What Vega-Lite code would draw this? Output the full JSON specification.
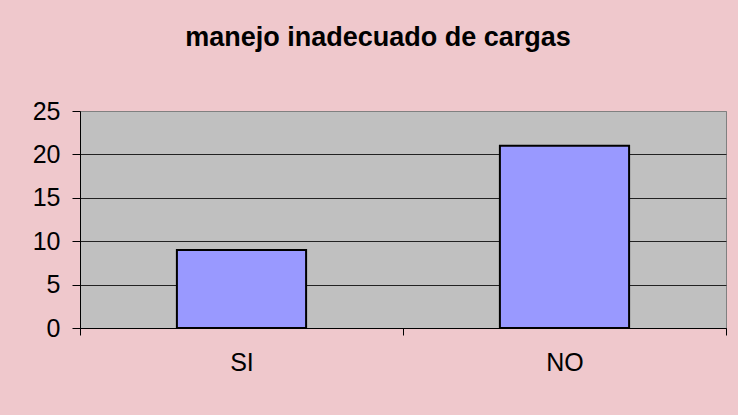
{
  "$schema": "https://vega.github.io/schema/vega-lite/v6.json",
  "width": 646,
  "height": 217,
  "autosize": {"type": "none"},
  "padding": {"left": 80, "top": 111, "right": 12, "bottom": 87},
  "background": "#EFC8CC",
  "title": {
    "text": "manejo inadecuado de cargas",
    "font": "Liberation Sans",
    "fontSize": 27,
    "fontWeight": "bold",
    "color": "#000000",
    "anchor": "middle",
    "dx": -25,
    "offset": 47
  },
  "data": {
    "values": [
      {"respuesta": "SI", "cantidad": 9},
      {"respuesta": "NO", "cantidad": 21}
    ]
  },
  "mark": {"type": "bar", "color": "#9999FF", "stroke": "#000000", "strokeWidth": 2, "width": {"band": 0.4}},
  "encoding": {
    "x": {
      "field": "respuesta",
      "type": "nominal",
      "sort": ["SI", "NO"],
      "scale": {"paddingInner": 0, "paddingOuter": 0},
      "axis": {
        "title": null,
        "labelAngle": 0,
        "tickBand": "extent",
        "tickSize": 7,
        "tickColor": "#000000",
        "domainColor": "#000000",
        "labelPadding": 15,
        "labelFont": "Liberation Sans",
        "labelFontSize": 25,
        "labelColor": "#000000"
      }
    },
    "y": {
      "field": "cantidad",
      "type": "quantitative",
      "scale": {"domain": [0, 25], "nice": false},
      "axis": {
        "title": null,
        "values": [0, 5, 10, 15, 20, 25],
        "grid": true,
        "gridColor": {"condition": {"test": "datum.value == 25", "value": "#808080"}, "value": "#222222"},
        "gridOpacity": 1,
        "tickSize": 8,
        "tickColor": "#000000",
        "domainColor": "#000000",
        "labelPadding": 12,
        "labelFont": "Liberation Sans",
        "labelFontSize": 25,
        "labelColor": "#000000"
      }
    }
  },
  "config": {
    "view": {"fill": "#C0C0C0", "stroke": "#808080", "strokeWidth": 1}
  }
}
